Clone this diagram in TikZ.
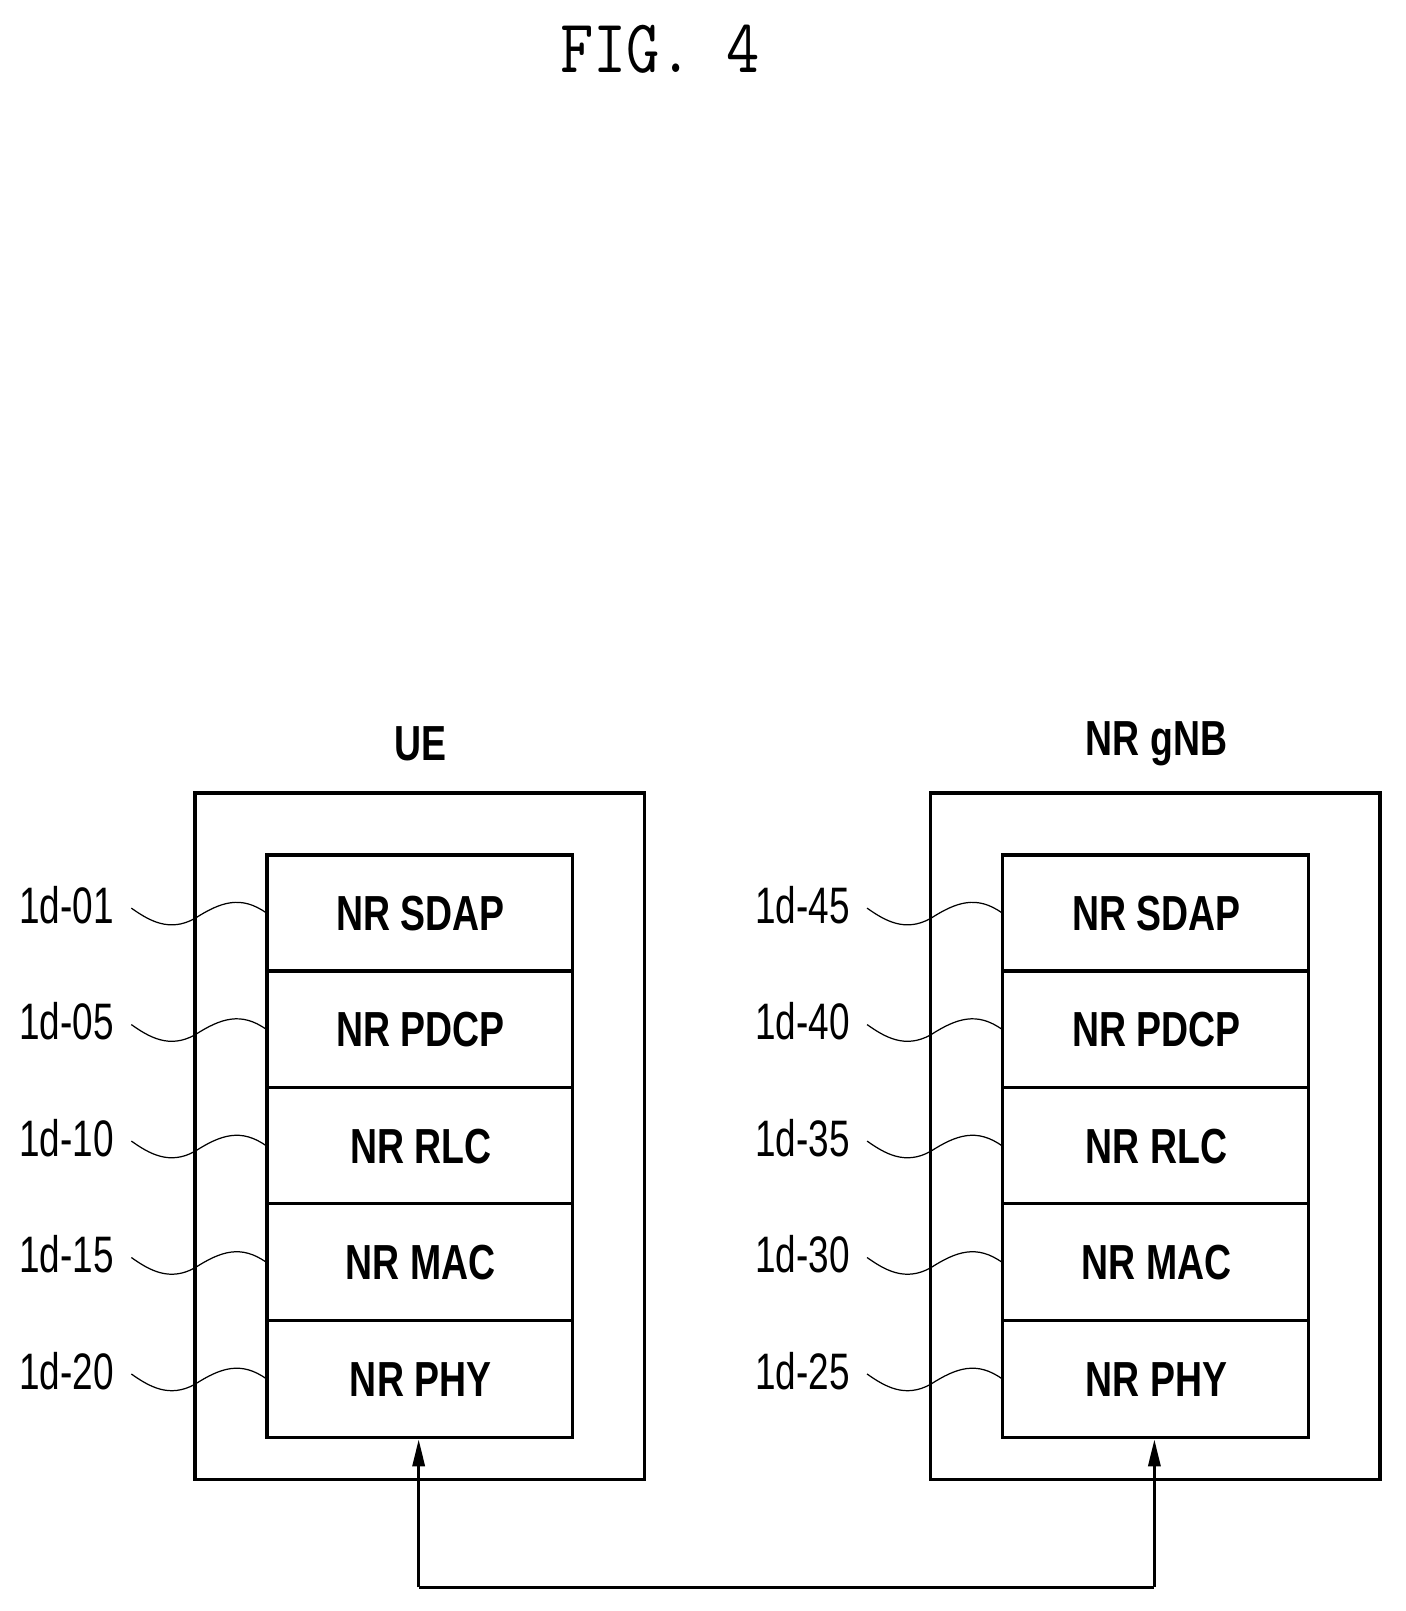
\documentclass[tikz,border=0pt]{standalone}
\usepackage{fontspec}
\setmainfont{Liberation Sans}
\usetikzlibrary{arrows.meta}
\begin{document}
\begin{tikzpicture}[x=1pt,y=-1pt,
  box/.style={line width=3.5pt},
  lay/.style={font=\fontsize{48}{50}\selectfont\bfseries, xscale=0.76},
  ref/.style={font=\fontsize{50}{52}\selectfont, xscale=0.72},
  sq/.style={line width=1.2pt},
  conn/.style={line width=2.5pt}]
\useasboundingbox (0,0) rectangle (1370,1570);
\node[font=\fontsize{74}{76}\selectfont\ttfamily, xscale=0.85] (title) at (643,48) {FIG. 4};
\foreach \side/\xo/\nm/\refs in {L/0/UE/{1d-01,1d-05,1d-10,1d-15,1d-20}, R/717/NR gNB/{1d-45,1d-40,1d-35,1d-30,1d-25}}{
  \begin{scope}[xshift=\xo]
  \node[lay] (\side head) at (410,725) {\nm};
  \draw[box] (190,773) rectangle (628,1442);
  \draw[box] (260,833) rectangle (558,1401);
  \foreach \y in {946,1060,1173,1287} \draw[box] (260,\y) -- (558,\y);
  \foreach \t [count=\i] in {NR SDAP,NR PDCP,NR RLC,NR MAC,NR PHY}{
    \pgfmathsetmacro\yc{890+113.5*(\i-1)}
    \node[lay] (\side l\i) at (410,\yc) {\t};
  }
  \foreach \r [count=\i] in \refs {
    \pgfmathsetmacro\yc{882+113.5*(\i-1)}
    \node[ref] (\side r\i) at (65,\yc) {\r};
    \draw[sq] (128,\yc+3) .. controls (145,\yc+15) and (165,\yc+27) .. (190,\yc+13)
      .. controls (215,\yc-3) and (235,\yc-10) .. (260,\yc+8);
  }
  \coordinate (\side top) at (408,1403);
  \coordinate (\side bot) at (408,1547);
  \end{scope}
}
\draw[conn,-{Triangle[length=26pt,width=12pt]}] (Lbot) -- (Ltop);
\draw[conn,-{Triangle[length=26pt,width=12pt]}] (Rbot) -- (Rtop);
\draw[conn] (Lbot) -- (Rbot);
\end{tikzpicture}
\end{document}
